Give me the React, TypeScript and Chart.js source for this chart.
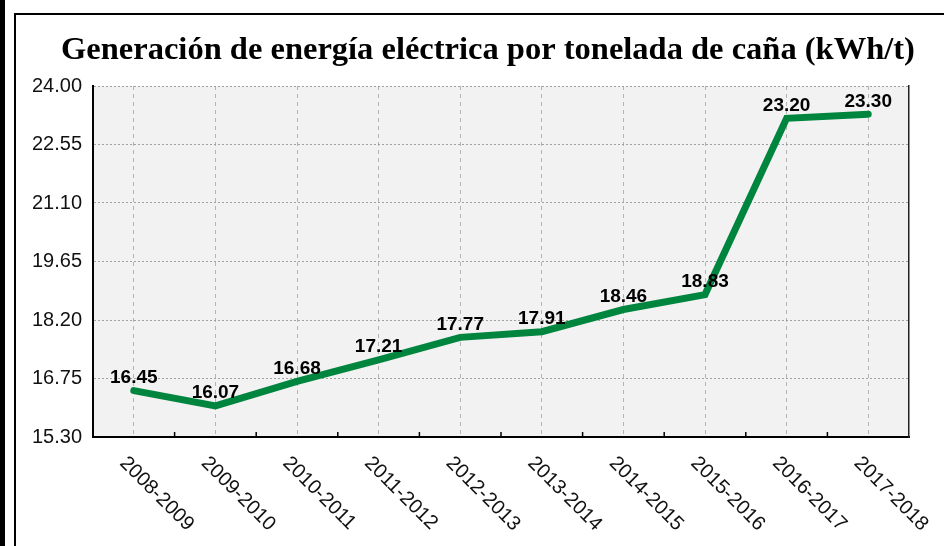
import React, { useEffect, useRef } from "react";
import { Chart, registerables } from "chart.js";

Chart.register(...registerables);

const categories = [
  "2008-2009",
  "2009-2010",
  "2010-2011",
  "2011-2012",
  "2012-2013",
  "2013-2014",
  "2014-2015",
  "2015-2016",
  "2016-2017",
  "2017-2018",
];
const values = [16.45, 16.07, 16.68, 17.21, 17.77, 17.91, 18.46, 18.83, 23.2, 23.3];
const yTicks = [15.3, 16.75, 18.2, 19.65, 21.1, 22.55, 24.0];
const titleText = "Generación de energía eléctrica por tonelada de caña (kWh/t)";

const GREEN = "#00853e";
const SANS = "'Liberation Sans', Arial, Helvetica, sans-serif";

export default function App() {
  const ref = useRef<HTMLCanvasElement>(null);

  useEffect(() => {
    const decor = {
      id: "decor",
      beforeDraw(chart: any) {
        const { ctx, chartArea: a } = chart;
        ctx.save();
        ctx.fillStyle = "#f2f2f2";
        ctx.fillRect(a.left, a.top, a.right - a.left, a.bottom - a.top);
        ctx.restore();
      },
      afterDatasetsDraw(chart: any) {
        const { ctx, chartArea: a } = chart;
        const xs = chart.scales.x;
        const labels = chart.data.labels as string[];
        ctx.save();
        // boundary tick marks
        ctx.strokeStyle = "#000";
        ctx.lineWidth = 1.5;
        for (let i = 1; i < labels.length; i++) {
          const x = (xs.getPixelForValue(i - 1) + xs.getPixelForValue(i)) / 2;
          ctx.beginPath();
          ctx.moveTo(x, a.bottom - 5);
          ctx.lineTo(x, a.bottom);
          ctx.stroke();
        }
        // data labels
        const meta = chart.getDatasetMeta(0);
        ctx.fillStyle = "#000";
        ctx.font = `bold 19px ${SANS}`;
        ctx.textAlign = "center";
        ctx.textBaseline = "alphabetic";
        meta.data.forEach((pt: any, i: number) => {
          const v = chart.data.datasets[0].data[i] as number;
          ctx.fillText(v.toFixed(2), pt.x, pt.y - 7.5);
        });
        // rotated x labels
        ctx.fillStyle = "#111";
        ctx.font = `20px ${SANS}`;
        labels.forEach((lab, i) => {
          const x = xs.getPixelForValue(i);
          ctx.save();
          ctx.translate(x - 11, a.bottom + 23);
          ctx.rotate(Math.PI / 4);
          ctx.textAlign = "left";
          ctx.textBaseline = "middle";
          ctx.fillText(lab, 0, 0);
          ctx.restore();
        });
        ctx.restore();
      },
    };

    const chart = new Chart(ref.current!, {
      type: "line",
      data: {
        labels: categories,
        datasets: [
          {
            data: values,
            borderColor: GREEN,
            backgroundColor: GREEN,
            borderWidth: 7,
            pointRadius: 0,
            tension: 0,
            fill: false,
            borderCapStyle: "round",
            borderJoinStyle: "miter",
          },
        ],
      },
      options: {
        animation: false,
        responsive: false,
        devicePixelRatio: 1,
        layout: { padding: { left: 32, right: 0, top: 0, bottom: 0 } },
        plugins: {
          legend: { display: false },
          tooltip: { enabled: false },
          title: {
            display: true,
            text: titleText,
            color: "#000",
            font: { family: "'Liberation Serif', 'Times New Roman', serif", size: 32.5, weight: "bold" },
            padding: { top: 31, bottom: 16 },
          },
        },
        scales: {
          x: {
            offset: true,
            grid: { offset: false, color: "#b4b4b4", lineWidth: 1, drawTicks: false },
            border: { color: "#000", width: 2, dash: [4, 4] },
            ticks: { display: false },
            afterFit: (s: any) => {
              s.height = 109;
            },
          },
          y: {
            min: 15.3,
            max: 24,
            afterBuildTicks: (s: any) => {
              s.ticks = yTicks.map((v) => ({ value: v }));
            },
            grid: { color: "#a0a0a0", lineWidth: 1, drawTicks: false },
            border: { color: "#000", width: 2, dash: [2, 2] },
            ticks: {
              padding: 11,
              color: "#111",
              font: { family: SANS, size: 20 },
              callback: (v: any) => Number(v).toFixed(2),
            },
            afterFit: (s: any) => {
              s.width = 61;
            },
          },
          y2: {
            position: "right",
            display: true,
            grid: { display: false, drawTicks: false },
            border: { display: true, color: "#222", width: 1.5 },
            ticks: { display: false },
            afterFit: (s: any) => {
              s.width = 35;
            },
          },
        },
      },
      plugins: [decor],
    } as any);
    return () => chart.destroy();
  }, []);

  return (
    <div
      style={{
        position: "absolute",
        left: 0,
        top: 0,
        width: 944,
        height: 546,
        background: "#fff",
        overflow: "hidden",
      }}
    >
      <div style={{ position: "absolute", left: 0, top: 0, width: 5, height: 546, background: "#000" }} />
      <div
        style={{
          position: "absolute",
          left: 14,
          top: 13,
          width: 944,
          height: 546,
          borderLeft: "2px solid #000",
          borderTop: "2px solid #000",
        }}
      />
      <canvas
        ref={ref}
        width={944}
        height={546}
        style={{ position: "absolute", left: 0, top: 0, width: 944, height: 546 }}
      />
    </div>
  );
}
